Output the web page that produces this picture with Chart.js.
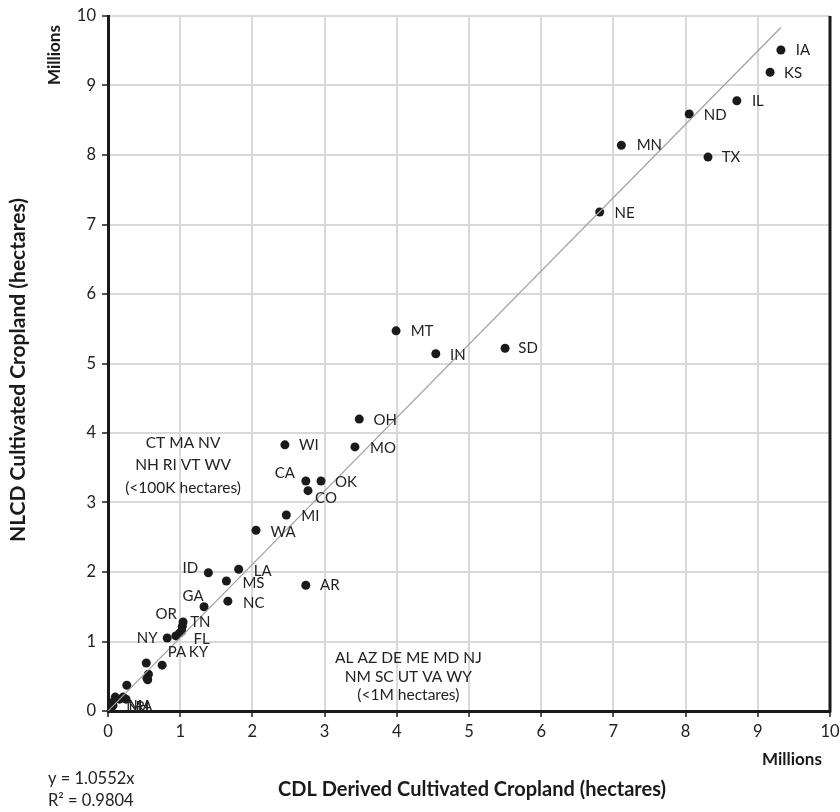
<!DOCTYPE html>
<html>
<head>
<meta charset="utf-8">
<script src="https://cdn.jsdelivr.net/npm/chart.js@4.4.1/dist/chart.umd.min.js"></script>
<style>
  body { margin: 0; background: #fff; }
  canvas { display: block; }
</style>
</head>
<body>
<canvas id="myChart" width="840" height="812"></canvas>
<script>
// state codes and values (millions of hectares)
const states = ['IA', 'KS', 'IL', 'ND', 'MN', 'TX', 'NE', 'MT', 'IN', 'SD',
    'OH', 'MO', 'WI', 'CA', 'OK', 'CO', 'MI', 'WA', 'AR', 'ID',
    'LA', 'MS', 'NC', 'GA', 'OR', 'TN', 'FL', 'NY', 'PA', 'KY',
    'AL', 'SC', 'VA', 'MD', 'NM', 'UT', 'AZ', 'DE', 'NJ', 'WY',
    'ME', 'NV', 'CT', 'MA', 'NH', 'RI', 'VT', 'WV'];
const cdlValues = [9.32, 9.17, 8.71, 8.05, 7.11, 8.31, 6.81, 3.99, 4.54, 5.50,
    3.48, 3.42, 2.45, 2.74, 2.95, 2.77, 2.47, 2.05, 2.74, 1.39,
    1.81, 1.64, 1.66, 1.33, 1.04, 1.03, 1.02, 0.82, 0.94, 0.99,
    0.75, 0.53, 0.56, 0.54, 0.55, 0.26, 0.21, 0.25, 0.10, 0.16,
    0.06, 0.03, 0.02, 0.02, 0.01, 0.005, 0.04, 0.07];
const nlcdValues = [9.51, 9.19, 8.78, 8.59, 8.14, 7.97, 7.18, 5.47, 5.14, 5.22,
    4.20, 3.80, 3.83, 3.31, 3.31, 3.17, 2.82, 2.60, 1.81, 1.99,
    2.04, 1.87, 1.58, 1.50, 1.28, 1.22, 1.15, 1.05, 1.08, 1.12,
    0.66, 0.69, 0.53, 0.47, 0.45, 0.37, 0.20, 0.17, 0.20, 0.17,
    0.12, 0.10, 0.06, 0.04, 0.02, 0.01, 0.03, 0.08];
const axisTicks = [0, 1, 2, 3, 4, 5, 6, 7, 8, 9, 10];

// regression y = 1.0552x drawn across the data range
const slope = 1.0552;
const trendEndX = 9.32;

// where each state label sits relative to its dot (text centre, px)
const labelOffset = {
    IA: [22, 0], KS: [23, 1], IL: [21, 0], ND: [26, 1], MN: [28, 0], TX: [23, 0],
    NE: [25, 1], MT: [26, 0], IN: [22, 1], SD: [23, 0], OH: [26, 1], MO: [28, 1],
    WI: [24, 0], CA: [-21, -8], OK: [25, 1], CO: [18, 7], MI: [24, 1], WA: [27, 2],
    AR: [24, 0], ID: [-18, -5], LA: [24, 2], MS: [27, 2], NC: [26, 2], GA: [-11, -11],
    OR: [-17, -8], TN: [18, -4], FL: [20, 8], NY: [-20, 0], PA: [1, 16], KY: [19, 19],
    MA: [31, -2], NH: [29, -3], RI: [34, -3]
};

const points = cdlValues.map((x, i) => ({ x: x, y: nlcdValues[i] }));

const fam = 'Lato, "Open Sans", sans-serif';
const labelFont = '15px ' + fam;

const overlayPlugin = {
    id: 'overlay',
    afterDatasetsDraw(chart) {
        const ctx = chart.ctx;
        const area = chart.chartArea;
        const xs = chart.scales.x;
        const ys = chart.scales.y;

        // right frame line
        ctx.save();
        ctx.strokeStyle = '#1a1a1a';
        ctx.lineWidth = 3;
        ctx.beginPath();
        ctx.moveTo(area.right, area.top);
        ctx.lineTo(area.right, area.bottom + 1.5);
        ctx.stroke();

        // state labels
        ctx.fillStyle = '#222';
        ctx.font = labelFont;
        ctx.textAlign = 'center';
        ctx.textBaseline = 'middle';
        const meta = chart.getDatasetMeta(1);
        states.forEach((s, i) => {
            const off = labelOffset[s];
            if (!off) return;
            const el = meta.data[i];
            ctx.fillText(s, el.x + off[0], el.y + off[1]);
        });

        // group notes
        const note = (lines, cx, cy, gap) => {
            const px = xs.getPixelForValue(cx);
            const py = ys.getPixelForValue(cy);
            lines.forEach((t, k) => ctx.fillText(t, px, py + k * gap));
        };
        ctx.font = '15.5px ' + fam;
        note(['CT MA NV', 'NH RI VT WV', '(<100K hectares)'], 1.04, 3.86, 22.5);
        note(['AL AZ DE ME MD NJ', 'NM SC UT VA WY', '(<1M hectares)'], 4.16, 0.76, 18.5);

        // axis titles
        ctx.fillStyle = '#1a1a1a';
        ctx.font = 'bold 20px ' + fam;
        ctx.fillText('CDL Derived Cultivated Cropland (hectares)', 472, 790);
        ctx.font = 'bold 17px ' + fam;
        ctx.fillText('Millions', 792, 760);

        ctx.save();
        ctx.translate(18, 370);
        ctx.rotate(-Math.PI / 2);
        ctx.font = 'bold 21px ' + fam;
        ctx.fillText('NLCD Cultivated Cropland (hectares)', 0, 0);
        ctx.restore();

        ctx.save();
        ctx.translate(55, 55);
        ctx.rotate(-Math.PI / 2);
        ctx.font = 'bold 17px ' + fam;
        ctx.fillText('Millions', 0, 0);
        ctx.restore();

        // regression text
        ctx.fillStyle = '#222';
        ctx.font = '16.5px ' + fam;
        ctx.textAlign = 'left';
        ctx.fillText('y = 1.0552x', 48, 779);
        ctx.fillText('R\u00B2 = 0.9804', 48, 801);
        ctx.restore();
    }
};

const gridOpts = {
    color: '#d9d9d9',
    lineWidth: 2,
    tickColor: '#1a1a1a',
    tickLength: 6,
    tickWidth: 1.5
};

const config = {
    type: 'scatter',
    data: {
        datasets: [{
            label: 'trend',
            data: [{ x: 0, y: 0 }, { x: trendEndX, y: slope * trendEndX }],
            showLine: true,
            borderColor: '#a0a0a0',
            borderWidth: 1.2,
            pointRadius: 0
        }, {
            label: 'states',
            data: points,
            backgroundColor: '#1a1a1a',
            borderColor: '#1a1a1a',
            pointRadius: 4.5,
            borderWidth: 0
        }]
    },
    options: {
        responsive: false,
        animation: false,
        layout: { padding: { top: 16, right: 10, left: 0, bottom: 0 } },
        plugins: {
            legend: { display: false },
            tooltip: { enabled: false }
        },
        scales: {
            x: {
                type: 'linear',
                min: 0,
                max: 10,
                afterBuildTicks: (s) => { s.ticks = axisTicks.map(v => ({ value: v })); },
                afterFit: (s) => {
                    s.height = 101;
                    s.paddingLeft = 0;
                    s.paddingRight = 0;
                },
                grid: gridOpts,
                border: { color: '#1a1a1a', width: 3 },
                ticks: {
                    color: '#222',
                    font: { family: fam, size: 16.5 },
                    padding: 5
                }
            },
            y: {
                type: 'linear',
                min: 0,
                max: 10,
                afterBuildTicks: (s) => { s.ticks = axisTicks.map(v => ({ value: v })); },
                afterFit: (s) => {
                    s.width = 108;
                    s.paddingTop = 0;
                    s.paddingBottom = 0;
                },
                grid: gridOpts,
                border: { color: '#1a1a1a', width: 3 },
                ticks: {
                    color: '#222',
                    font: { family: fam, size: 16.5 },
                    padding: 6
                }
            }
        }
    },
    plugins: [overlayPlugin]
};

const myChart = new Chart(document.getElementById('myChart'), config);
</script>
</body>
</html>
